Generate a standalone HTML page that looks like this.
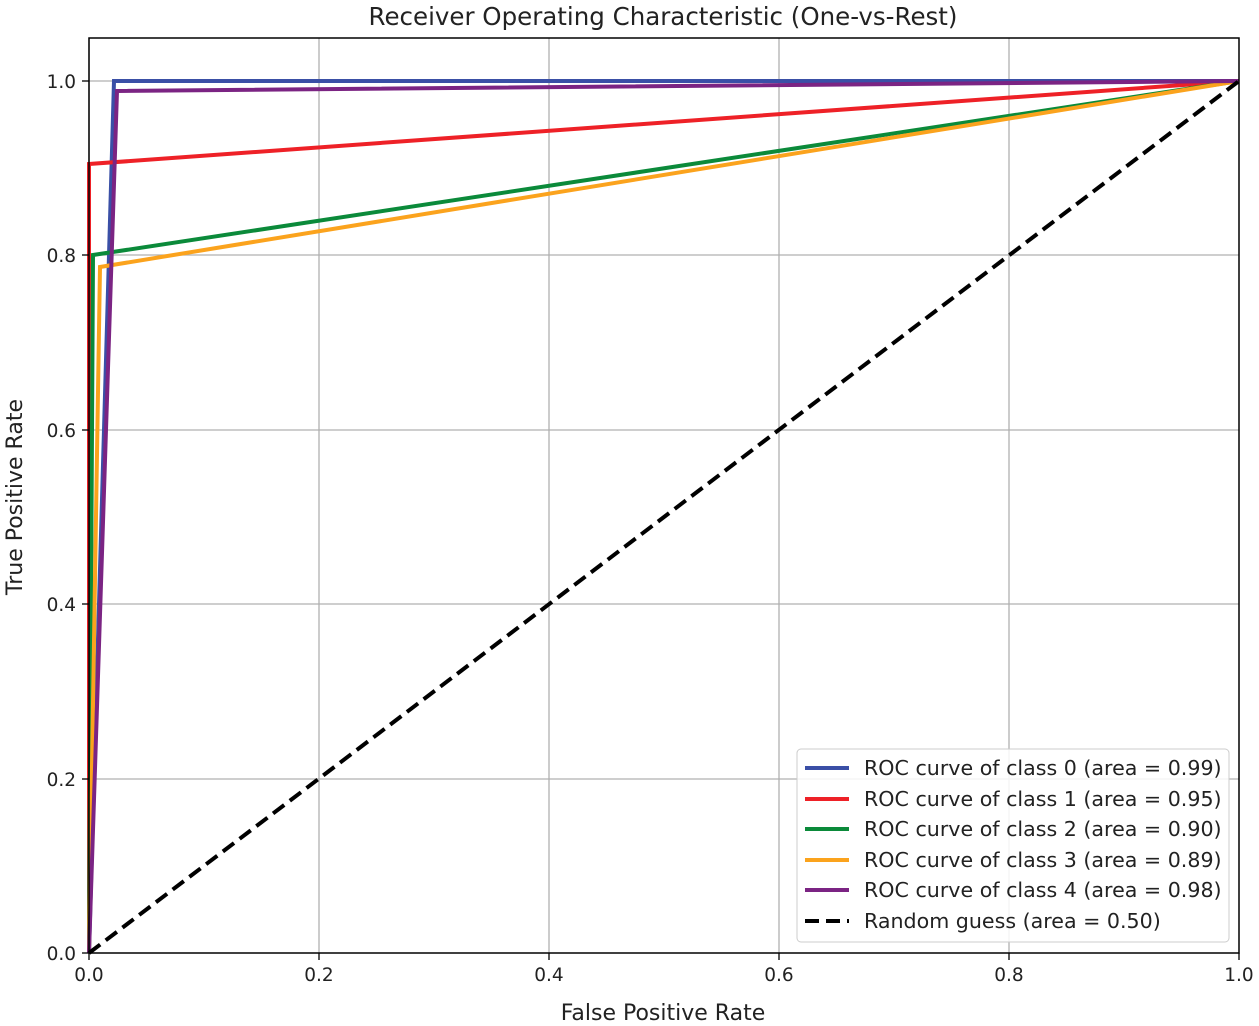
<!DOCTYPE html>
<html><head><meta charset="utf-8"><style>body{margin:0;background:#fff}svg{display:block}text{font-family:"DejaVu Sans","Liberation Sans",sans-serif;fill:#222}</style></head><body>
<svg width="1259" height="1026" viewBox="0 0 1259 1026">
<g stroke="#b0b0b0" stroke-width="1.3">
<line x1="89" y1="38" x2="89" y2="953"/><line x1="319" y1="38" x2="319" y2="953"/><line x1="549" y1="38" x2="549" y2="953"/><line x1="779" y1="38" x2="779" y2="953"/><line x1="1009" y1="38" x2="1009" y2="953"/>
<line x1="89" y1="81" x2="1239" y2="81"/><line x1="89" y1="255" x2="1239" y2="255"/><line x1="89" y1="430" x2="1239" y2="430"/><line x1="89" y1="604" x2="1239" y2="604"/><line x1="89" y1="779" x2="1239" y2="779"/>
</g>
<g fill="none" stroke-width="4" stroke-linejoin="miter">
<polyline stroke="#3a4fa6" points="89,953 114,81 1239,81"/>
<polyline stroke="#ee2127" points="89,953 89,164 1239,81"/>
<polyline stroke="#0b8a3a" points="89,953 93,255 1239,81"/>
<polyline stroke="#fba31d" points="89,953 100,267 1239,81"/>
<polyline stroke="#7b2483" points="89,953 117,91 1239,81"/>
<line x1="89" y1="953" x2="1239" y2="81" stroke="#000" stroke-dasharray="14,7"/>
</g>
<rect x="89" y="38" width="1150" height="915" fill="none" stroke="#000" stroke-width="1.5"/>
<g stroke="#000" stroke-width="1.3">
<line x1="89" y1="953" x2="89" y2="960"/><line x1="319" y1="953" x2="319" y2="960"/><line x1="549" y1="953" x2="549" y2="960"/><line x1="779" y1="953" x2="779" y2="960"/><line x1="1009" y1="953" x2="1009" y2="960"/><line x1="1239" y1="953" x2="1239" y2="960"/>
<line x1="82" y1="81" x2="89" y2="81"/><line x1="82" y1="255" x2="89" y2="255"/><line x1="82" y1="430" x2="89" y2="430"/><line x1="82" y1="604" x2="89" y2="604"/><line x1="82" y1="779" x2="89" y2="779"/><line x1="82" y1="953" x2="89" y2="953"/>
</g>
<g font-size="18.5" text-anchor="middle">
<text x="89" y="981">0.0</text><text x="319" y="981">0.2</text><text x="549" y="981">0.4</text><text x="779" y="981">0.6</text><text x="1009" y="981">0.8</text><text x="1239" y="981">1.0</text>
</g>
<g font-size="18.5" text-anchor="end">
<text x="76" y="88">1.0</text><text x="76" y="262">0.8</text><text x="76" y="437">0.6</text><text x="76" y="611">0.4</text><text x="76" y="786">0.2</text><text x="76" y="960">0.0</text>
</g>
<text x="663" y="1020" font-size="22" text-anchor="middle">False Positive Rate</text>
<text transform="translate(22,497) rotate(-90)" font-size="22" text-anchor="middle">True Positive Rate</text>
<text x="663" y="25" font-size="24.5" text-anchor="middle">Receiver Operating Characteristic (One-vs-Rest)</text>
<rect x="797" y="749" width="432" height="193" rx="4" fill="#fff" fill-opacity="0.85" stroke="#ccc"/>
<g stroke-width="4">
<line x1="805" y1="768" x2="849" y2="768" stroke="#3a4fa6"/>
<line x1="805" y1="799" x2="849" y2="799" stroke="#ee2127"/>
<line x1="805" y1="829" x2="849" y2="829" stroke="#0b8a3a"/>
<line x1="805" y1="860" x2="849" y2="860" stroke="#fba31d"/>
<line x1="805" y1="890" x2="849" y2="890" stroke="#7b2483"/>
<line x1="805" y1="921" x2="849" y2="921" stroke="#000" stroke-dasharray="14,7"/>
</g>
<g font-size="20.6">
<text x="864" y="775">ROC curve of class 0 (area = 0.99)</text>
<text x="864" y="806">ROC curve of class 1 (area = 0.95)</text>
<text x="864" y="836">ROC curve of class 2 (area = 0.90)</text>
<text x="864" y="867">ROC curve of class 3 (area = 0.89)</text>
<text x="864" y="897">ROC curve of class 4 (area = 0.98)</text>
<text x="864" y="928">Random guess (area = 0.50)</text>
</g>
</svg>
</body></html>
